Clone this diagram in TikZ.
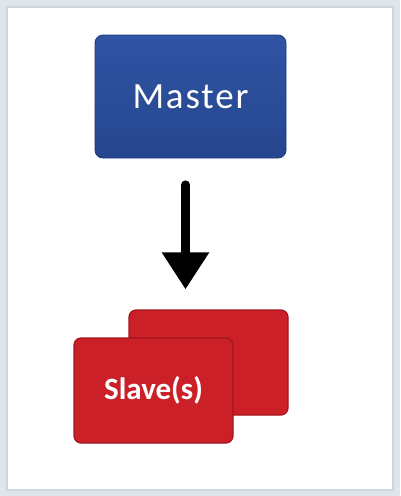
\documentclass[tikz,border=0pt]{standalone}
\usepackage{fontspec}
\setmainfont{Carlito}
\usetikzlibrary{arrows.meta, positioning}

\definecolor{framebg}{RGB}{222,230,236}
\definecolor{frameedge}{RGB}{205,214,224}
\definecolor{masterblue}{RGB}{48,84,164}
\definecolor{masterdark}{RGB}{38,70,142}
\definecolor{masterline}{RGB}{30,56,120}
\definecolor{slavered}{RGB}{204,32,40}
\definecolor{slaveline}{RGB}{160,24,30}

\begin{document}
\begin{tikzpicture}[x=1pt, y=-1pt,
    masterbox/.style={rectangle, rounded corners=8pt, draw=masterline, line width=0.8pt,
        top color=masterblue, bottom color=masterdark, text=white,
        minimum width=191pt, minimum height=123pt,
        font=\fontsize{37}{40}\selectfont\addfontfeatures{LetterSpace=5}},
    slavebox/.style={rectangle, rounded corners=7pt, draw=slaveline, line width=1.2pt,
        fill=slavered, text=white, minimum width=159pt, minimum height=105pt,
        font=\bfseries\fontsize{31}{34}\selectfont},
    flow/.style={line width=9pt, line cap=round, -{Triangle[width=45pt, length=37pt]}}
]
    % Frame with light border
    \useasboundingbox (0,0) rectangle (400,496);
    \fill[framebg] (0,0) rectangle (400,496);
    \fill[white, draw=frameedge, line width=1.5pt] (7,7) rectangle (393,490);

    % Master node
    \node[masterbox] (master) at (190.5,96.5) {Master};

    % Slave nodes (one behind the other)
    \node[slavebox] (slaveback) at (208.5,362.5) {};
    \node[slavebox] (slavefront) at (153.5,390.5) {Slave(s)};

    % Arrow from master down to the slaves
    \draw[flow, shorten <=26.5pt, shorten >=20pt]
        ([xshift=-5pt]master.south) -- ([xshift=-5pt]master.south |- slaveback.north);
\end{tikzpicture}
\end{document}
